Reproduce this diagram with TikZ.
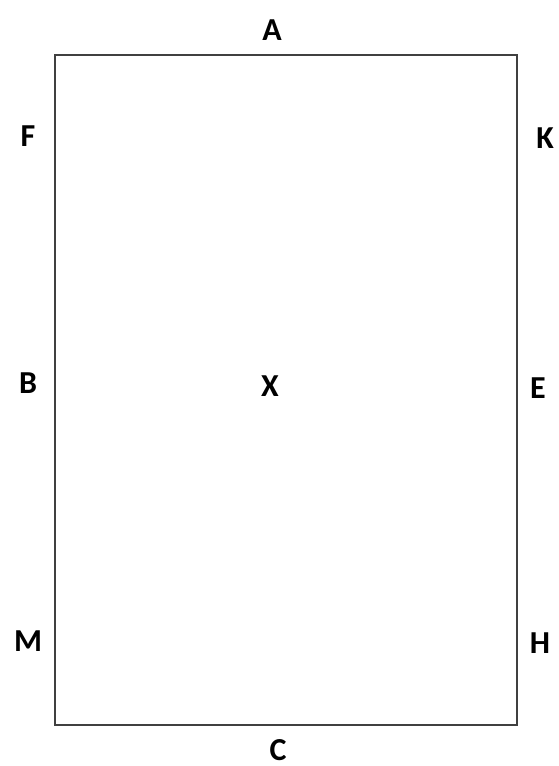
\documentclass[tikz,border=0pt]{standalone}
\usepackage{fontspec}
\setmainfont{Carlito}
\begin{document}
\begin{tikzpicture}[x=1pt,y=-1pt,
  lbl/.style={font=\fontsize{32}{34}\selectfont\bfseries, inner sep=0pt, text=black},
  frame/.style={draw=black!75, line width=2pt}]
\useasboundingbox (0,0) rectangle (558,766);
\fill[white] (0,0) rectangle (558,766);
\coordinate (tl) at (55,55);
\coordinate (br) at (517,725);
\draw[frame] (tl) rectangle (br);
\node[lbl] (A) at (272,30) {A};
\node[lbl] (F) at (28,136) {F};
\node[lbl] (K) at (545,138) {K};
\node[lbl] (B) at (28,383) {B};
\node[lbl] (X) at (270,386) {X};
\node[lbl] (E) at (538,388) {E};
\node[lbl] (M) at (28,641) {M};
\node[lbl] (H) at (540,643) {H};
\node[lbl] (C) at (278,750) {C};
\end{tikzpicture}
\end{document}
